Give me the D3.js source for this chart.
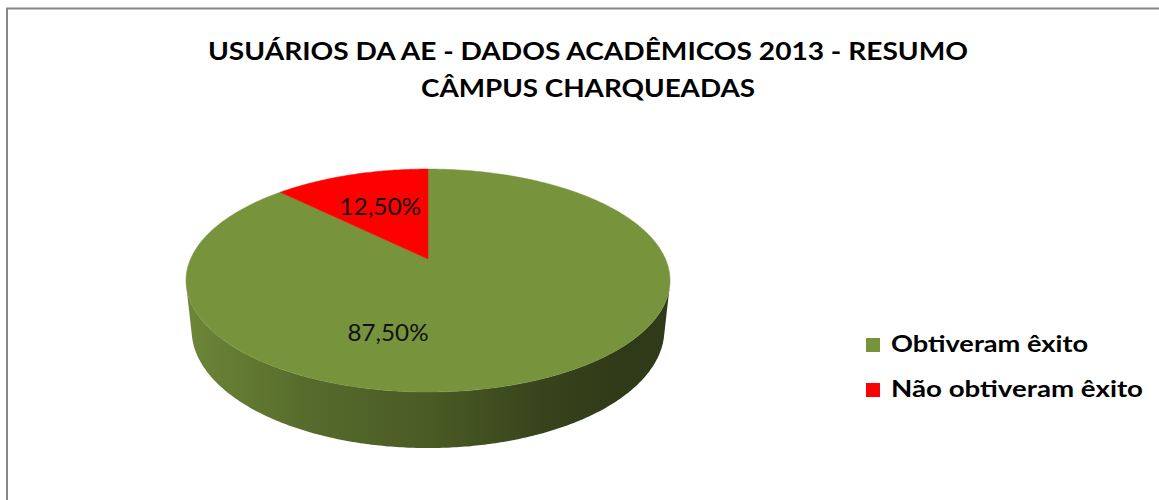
<!DOCTYPE html>
<html>
<head>
<meta charset="utf-8">
<script src="https://cdn.jsdelivr.net/npm/d3@7"></script>
<style>
  html, body { margin: 0; padding: 0; background: #fff; }
  svg { display: block; }
</style>
</head>
<body>
<script>
// ---- data ----
const titleLines = ["USUÁRIOS DA AE - DADOS ACADÊMICOS 2013 - RESUMO", "CÂMPUS CHARQUEADAS"];
const categories = ["Obtiveram êxito", "Não obtiveram êxito"];
const values = [87.5, 12.5];
const valueLabels = ["87,50%", "12,50%"];
const colors = ["#77933C", "#FF0000"];

// ---- layout ----
const W = 1159, H = 500;
const FONT = "Lato, 'Open Sans', 'Liberation Sans', sans-serif";
// perspective camera for the tilted 3D pie
const cam = { cx: 428, cy: 259, F: 1097, D: 4.62, alpha: Math.asin(0.452), T: 0.234 };
// label anchors: [angle in degrees clockwise from 12 o'clock, radius fraction]
const labelAnchors = [[193.7, 0.627], [337.5, 0.58]];
// rendered text widths (the chart is drawn slightly wide)
const titleWidths = [760, 334];
const labelWidths = [81, 82];
const legendWidths = [197, 252];

const svg = d3.select("body").append("svg").attr("width", W).attr("height", H);

svg.append("rect")
  .attr("x", 7).attr("y", 8.5).attr("width", W + 10).attr("height", H + 10)
  .attr("fill", "#fff").attr("stroke", "#878787").attr("stroke-width", 2);

// title
svg.append("g").selectAll("text").data(titleLines).join("text")
  .attr("x", 588).attr("y", (d, i) => 60 + i * 37)
  .attr("text-anchor", "middle")
  .attr("font-family", FONT).attr("font-weight", 700).attr("font-size", 25)
  .attr("textLength", (d, i) => titleWidths[i]).attr("lengthAdjust", "spacingAndGlyphs")
  .attr("fill", "#000")
  .text(d => d);

// projection of a point on the pie (phi: angle clockwise from far side, r: radius fraction, yw: height)
function project(phi, r, yw) {
  const X = r * Math.sin(phi), Z = r * Math.cos(phi);
  const sa = Math.sin(cam.alpha), ca = Math.cos(cam.alpha);
  const depth = cam.D - yw * sa + Z * ca;
  const sy = yw * ca + Z * sa;
  return [cam.cx + cam.F * X / depth, cam.cy - cam.F * sy / depth];
}
function arcPoints(a0, a1, yw) {
  const n = Math.max(2, Math.ceil((a1 - a0) / 0.01));
  return d3.range(n + 1).map(i => project(a0 + (a1 - a0) * i / n, 1, yw));
}

const pie = d3.pie().sort(null).value(d => d)(values);
const line = d3.line();

// visible part of the side wall
const cosLimit = -1 / (cam.D * Math.cos(cam.alpha));
const visA0 = Math.acos(cosLimit), visA1 = 2 * Math.PI - visA0;

const defs = svg.append("defs");
const leftX = project(visA1, 1, 0)[0], rightX = project(visA0, 1, 0)[0];
const shade = [[0, 0.25], [0.25, 0.9], [0.5, 1.35], [0.75, 2.2], [0.9, 2.6], [1, 2.6]];

const gWalls = svg.append("g");
pie.forEach((s, i) => {
  const a0 = Math.max(s.startAngle, visA0), a1 = Math.min(s.endAngle, visA1);
  if (a1 <= a0) return;
  const grad = defs.append("linearGradient").attr("id", "wall" + i)
    .attr("gradientUnits", "userSpaceOnUse")
    .attr("x1", leftX).attr("x2", rightX).attr("y1", 0).attr("y2", 0);
  shade.forEach(([o, k]) => grad.append("stop").attr("offset", o)
    .attr("stop-color", d3.color(colors[i]).darker(k).formatHex()));
  const pts = arcPoints(a0, a1, 0).concat(arcPoints(a0, a1, -cam.T).reverse());
  gWalls.append("path").attr("d", line(pts) + "Z").attr("fill", `url(#wall${i})`);
});

// top face
const gTop = svg.append("g");
pie.forEach((s, i) => {
  const pts = [project(0, 0, 0)].concat(arcPoints(s.startAngle, s.endAngle, 0));
  gTop.append("path").attr("d", line(pts) + "Z").attr("fill", colors[i])
    .attr("stroke", colors[i]).attr("stroke-width", 0.5);
});

// data labels
svg.append("g").selectAll("text").data(pie).join("text")
  .attr("x", (d, i) => project(labelAnchors[i][0] * Math.PI / 180, labelAnchors[i][1], 0)[0])
  .attr("y", (d, i) => project(labelAnchors[i][0] * Math.PI / 180, labelAnchors[i][1], 0)[1])
  .attr("dy", "0.36em")
  .attr("text-anchor", "middle")
  .attr("font-family", FONT).attr("font-size", 23).attr("fill", "#111")
  .attr("textLength", (d, i) => labelWidths[i]).attr("lengthAdjust", "spacingAndGlyphs")
  .text((d, i) => valueLabels[i]);

// legend
const legend = svg.append("g").selectAll("g").data(categories).join("g")
  .attr("transform", (d, i) => `translate(866,${338 + i * 45})`);
legend.append("rect").attr("width", 14).attr("height", 14).attr("fill", (d, i) => colors[i]);
legend.append("text").attr("x", 25).attr("y", 14)
  .attr("font-family", FONT).attr("font-weight", 700).attr("font-size", 22.5).attr("fill", "#000")
  .attr("textLength", (d, i) => legendWidths[i]).attr("lengthAdjust", "spacingAndGlyphs")
  .text(d => d);
</script>
</body>
</html>
